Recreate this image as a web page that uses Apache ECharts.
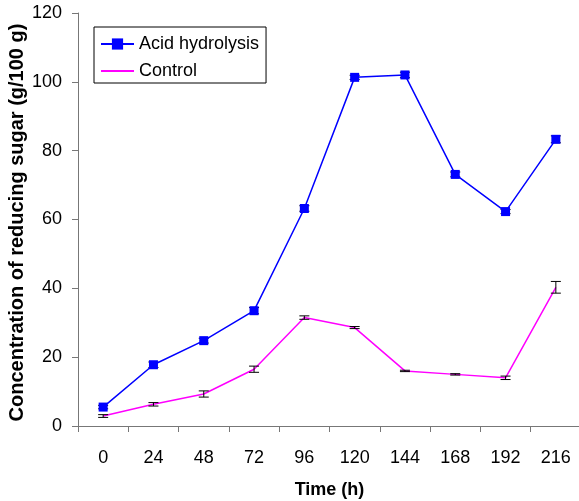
<!DOCTYPE html>
<html>
<head>
<meta charset="utf-8">
<script src="https://cdn.jsdelivr.net/npm/echarts@6/dist/echarts.min.js"></script>
<style>
html,body{margin:0;padding:0;background:#fff;}
#chart{width:579px;height:501px;}
</style>
</head>
<body>
<div id="chart"></div>
<script>
const categories = ['0','24','48','72','96','120','144','168','192','216'];
const acidValues = [5.5, 17.8, 24.8, 33.5, 63.2, 101.3, 102.0, 73.1, 62.3, 83.3];
const acidErrors = [0.5, 0.8, 0.7, 0.9, 0.8, 0.6, 0.8, 0.7, 0.6, 1.0];
const controlValues = [2.9, 6.3, 9.3, 16.5, 31.5, 28.6, 16.0, 15.0, 14.0, 40.3];
const controlErrors = [0.4, 0.5, 0.9, 0.9, 0.5, 0.3, 0.2, 0.2, 0.5, 1.7];
const yTicks = [0, 20, 40, 60, 80, 100, 120];

function errData(vals, errs) {
  return vals.map((v, i) => [i, v - errs[i], v + errs[i]]);
}
function errRender(params, api) {
  const i = api.value(0);
  const lo = api.coord([i, api.value(1)]);
  const hi = api.coord([i, api.value(2)]);
  const hw = 5;
  const st = {stroke: '#000', lineWidth: 1, fill: null};
  return {
    type: 'group',
    children: [
      {type: 'line', shape: {x1: lo[0], y1: lo[1], x2: hi[0], y2: hi[1]}, style: st},
      {type: 'line', shape: {x1: lo[0]-hw, y1: lo[1], x2: lo[0]+hw, y2: lo[1]}, style: st},
      {type: 'line', shape: {x1: hi[0]-hw, y1: hi[1], x2: hi[0]+hw, y2: hi[1]}, style: st}
    ]
  };
}

const chart = echarts.init(document.getElementById('chart'), null, {renderer: 'canvas'});
const font = 'Liberation Sans, Arial, sans-serif';
chart.setOption({
  animation: false,
  backgroundColor: '#fff',
  textStyle: {fontFamily: font},
  grid: {left: 78, right: -2, top: 13, bottom: 75, containLabel: false, outerBoundsMode: 'none'},
  legend: {
    left: 94, top: 27, orient: 'vertical',
    width: 182,
    padding: [8, 7, 3, 6],
    itemGap: 9, itemWidth: 33, itemHeight: 14,
    borderColor: '#000', borderWidth: 1,
    textStyle: {fontSize: 18, color: '#000', fontFamily: font, padding: [0, 0, 0, 0]},
    data: [
      {name: 'Acid hydrolysis'},
      {name: 'Control', itemStyle: {opacity: 0}}
    ]
  },
  xAxis: {
    type: 'category',
    data: categories,
    boundaryGap: true,
    name: 'Time (h)',
    nameLocation: 'middle',
    nameGap: 55,
    nameMoveOverlap: false,
    nameTextStyle: {fontSize: 18, fontWeight: 'bold', color: '#000', fontFamily: font},
    axisLine: {lineStyle: {color: '#777', width: 1}},
    axisTick: {show: true, length: 6, lineStyle: {color: '#777'}},
    axisLabel: {fontSize: 18, color: '#000', margin: 23, fontFamily: font},
    splitLine: {show: false}
  },
  yAxis: {
    type: 'value',
    min: yTicks[0], max: yTicks[yTicks.length - 1], interval: 20,
    name: 'Concentration of reducing sugar (g/100 g)',
    nameLocation: 'middle',
    nameGap: 51,
    nameMoveOverlap: false,
    nameTextStyle: {fontSize: 20, fontWeight: 'bold', color: '#000', fontFamily: font, padding: [0, 6, 0, 0]},
    axisLine: {show: true, lineStyle: {color: '#777', width: 1}},
    axisTick: {show: true, length: 6, lineStyle: {color: '#777'}},
    axisLabel: {fontSize: 18, color: '#000', margin: 16, fontFamily: font},
    splitLine: {show: false}
  },
  series: [
    {
      type: 'custom', name: 'acidErr', renderItem: errRender,
      data: errData(acidValues, acidErrors), z: 1, silent: true
    },
    {
      type: 'custom', name: 'ctrlErr', renderItem: errRender,
      data: errData(controlValues, controlErrors), z: 3, silent: true
    },
    {
      name: 'Acid hydrolysis', type: 'line', data: acidValues,
      symbol: 'rect', symbolSize: 9,
      itemStyle: {color: '#0000FF'},
      lineStyle: {color: '#0000FF', width: 1.5},
      z: 2
    },
    {
      name: 'Control', type: 'line', data: controlValues,
      symbol: 'none',
      itemStyle: {color: '#FF00FF'},
      lineStyle: {color: '#FF00FF', width: 1.5},
      z: 2
    }
  ]
});
</script>
</body>
</html>
